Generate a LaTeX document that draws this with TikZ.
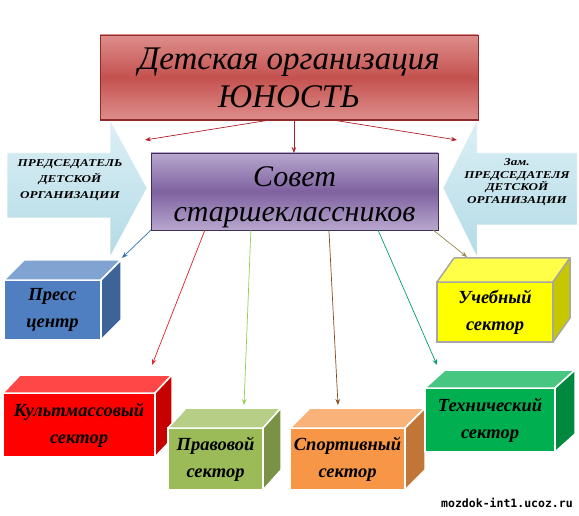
\documentclass[tikz,border=0pt]{standalone}
\usepackage{fontspec}
\setmainfont{Liberation Serif}
\newfontfamily\widefont[FakeStretch=1.25]{Liberation Serif}
\newfontfamily\wmfont{DejaVu Sans Mono}
\usetikzlibrary{arrows.meta,calc}
\definecolor{titleA}{HTML}{DD8E8C}
\definecolor{titleM}{HTML}{C4524F}
\definecolor{titleD}{HTML}{8E2B2A}
\definecolor{councilA}{HTML}{B8A7CE}
\definecolor{councilM}{HTML}{7E62A0}
\definecolor{councilD}{HTML}{3F3151}
\definecolor{signA}{HTML}{DCEFF5}
\definecolor{signB}{HTML}{B3DBE6}
\definecolor{pressC}{HTML}{4F7FC0}
\definecolor{yelC}{HTML}{FFFF00}
\definecolor{kultC}{HTML}{FF0000}
\definecolor{pravC}{HTML}{9BBB59}
\definecolor{sportC}{HTML}{F79646}
\definecolor{techC}{HTML}{00B050}
\definecolor{topC}{HTML}{B0202C}
\definecolor{blueL}{HTML}{2E75B6}
\definecolor{redL}{HTML}{E0202A}
\definecolor{greenL}{HTML}{92D050}
\definecolor{brownL}{HTML}{8B4A1A}
\definecolor{tealL}{HTML}{00A060}
\definecolor{oliveL}{HTML}{948A54}

\newcommand{\mycube}[9]{%
  \node[cubefront, fill=#8, minimum width={#4-#2}, minimum height={#5-#3}] (#1) at ({(#2+#4)/2},{(#3+#5)/2}) {#9};
  \filldraw[cubeface, fill=#8!72!white] (#1.north west) -- ++(#6,-#7) -- ++({#4-#2},0) -- (#1.north east) -- cycle;
  \filldraw[cubeface, fill=#8!78!black] (#1.north east) -- ++(#6,-#7) -- ++(0,{#5-#3}) -- (#1.south east) -- cycle;
}

\begin{document}
\begin{tikzpicture}[x=1pt,y=-1pt,
  conn/.style={-{Stealth[length=6pt,width=4.5pt]}, line width=0.7pt},
  cubeline/.style={draw=white},
  cubefront/.style={cubeline, line width=1.5pt, inner sep=0pt, outer sep=0pt, align=center,
    font=\fontsize{18.5}{27}\selectfont\bfseries\itshape},
  cubeface/.style={cubeline, line width=1.5pt, line join=round},
  bigbox/.style={draw=#1, line width=0.8pt, inner sep=0pt, outer sep=0pt, align=center},
  arrowtext/.style={align=center, inner sep=0pt},
  signshape/.style={draw=white, line width=0.5pt, top color=signA, bottom color=signB}
]
\useasboundingbox (0,0) rectangle (579,516);
\fill[white] (0,0) rectangle (579,516);

% side signs
\path[signshape] (7,153) -- (110,153) -- (110,120) -- (147,188) -- (110,257) -- (110,218) -- (7,218) -- cycle;
\path[signshape] (577,153) -- (477,153) -- (477,120) -- (443,188) -- (477,257) -- (477,225) -- (577,225) -- cycle;
\node[arrowtext, font=\widefont\fontsize{10.5}{16}\selectfont\bfseries\itshape] (chair) at (70,180)
  {ПРЕДСЕДАТЕЛЬ\\ДЕТСКОЙ\\ОРГАНИЗАЦИИ};
\node[arrowtext, font=\widefont\fontsize{10.5}{12.7}\selectfont\bfseries\itshape] (vice) at (517,182)
  {Зам.\\ПРЕДСЕДАТЕЛЯ\\ДЕТСКОЙ\\ОРГАНИЗАЦИИ};

% main boxes
\node[bigbox=titleD, top color=titleA, bottom color=titleA, middle color=titleM,
  minimum width=378pt, minimum height=85pt,
  font=\fontsize{33}{38}\selectfont\itshape] (org) at (289,77.5) {Детская организация\\ЮНОСТЬ};
\draw[titleD, line width=2pt] (org.south west) -- (org.south east);
\node[bigbox=councilD, top color=councilA, bottom color=councilA, middle color=councilM,
  minimum width=287pt, minimum height=77pt] (council) at (294.5,191.5) {};
\node[align=center, inner sep=0pt, font=\fontsize{30}{35}\selectfont\itshape] (councilText)
  at (294.5,197) {Совет\\старшеклассников};

% cubes
\mycube{press}{4}{280}{101}{340}{20}{20}{pressC}{Пресс\\центр}
\begin{scope}[cubeline/.style={draw=black!35}]
\mycube{uch}{437}{282}{553}{342}{17}{24}{yelC}{Учебный\\сектор}
\end{scope}
\mycube{kult}{3}{393}{155}{457}{17}{18}{kultC}{Культмассовый\\сектор}
\mycube{prav}{168}{428}{263}{490}{18}{20}{pravC}{Правовой\\сектор}
\mycube{sport}{290}{428}{405}{490}{20}{20}{sportC}{Спортивный\\сектор}
\mycube{tech}{425}{388}{555}{452}{20}{18}{techC}{Технический\\сектор}

% connectors from the organisation
\coordinate (t1) at ($(org.south west)!0.450!(org.south east)$);
\coordinate (t2) at ($(org.south west)!0.513!(org.south east)$);
\coordinate (t3) at ($(org.south west)!0.616!(org.south east)$);
\coordinate (chairIn) at (145,140);
\coordinate (viceIn) at (457,140);
\draw[conn, topC] (t1) -- (chairIn);
\draw[conn, topC] (t2) -- (t2 |- council.north);
\draw[conn, topC] (t3) -- (viceIn);

% connectors from the council
\coordinate (b2) at ($(council.south west)!0.188!(council.south east)$);
\coordinate (b3) at ($(council.south west)!0.348!(council.south east)$);
\coordinate (b4) at ($(council.south west)!0.620!(council.south east)$);
\coordinate (b5) at ($(council.south west)!0.791!(council.south east)$);
\coordinate (b6) at ($(council.south west)!0.983!(council.south east)$);
\draw[conn, blueL] (council.south west) -- ($(press.north east)+(21,-22)$);
\draw[conn, redL] (b2) -- ($(kult.north east)+(-3,-28)$);
\draw[conn, greenL] (b3) -- ($(prav.north)+(28.5,-23)$);
\draw[conn, brownL] (b4) -- ($(sport.north)+(-9.5,-23)$);
\draw[conn, tealL] (b5) -- ($(tech.north west)+(12,-23)$);
\draw[conn, oliveL] (b6) -- ($(uch.north west)+(30,-25)$);

\node[font=\wmfont\bfseries\fontsize{11.5}{12}\selectfont, inner sep=0pt] (wm) at (507,503) {mozdok-int1.ucoz.ru};
\end{tikzpicture}
\end{document}
